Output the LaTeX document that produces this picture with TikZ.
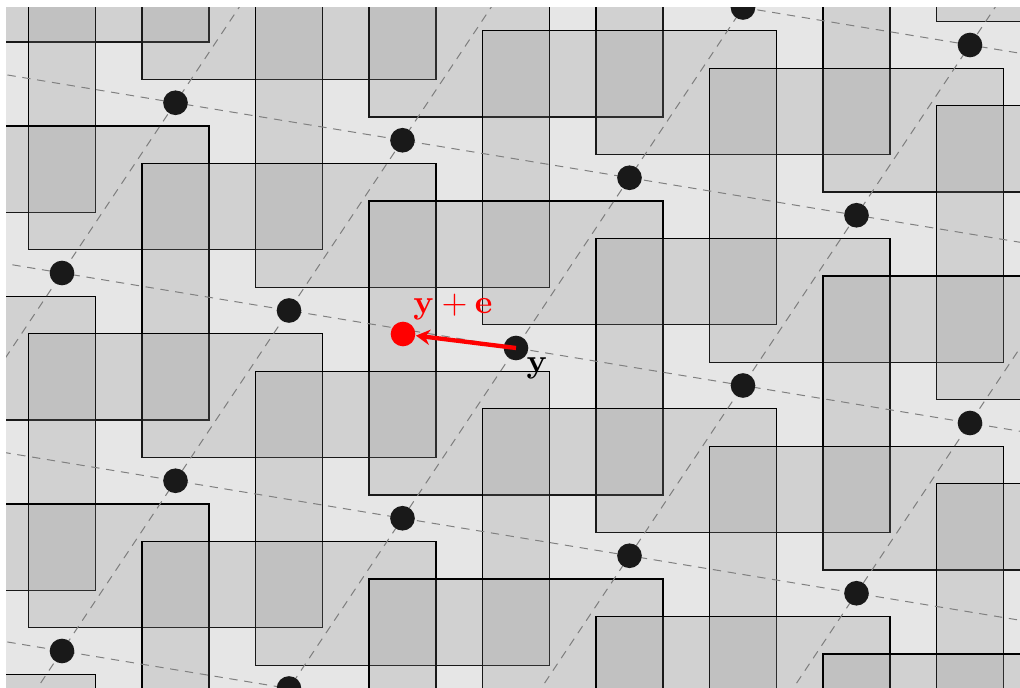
\documentclass[tikz,border=0pt]{standalone}
\usetikzlibrary{calc,arrows.meta}
\tikzset{
  tile/.style={fill=gray, fill opacity=0.2, draw=black, line width=0.33pt},
  latline/.style={gray, line width=0.3pt, dash pattern=on 2.5pt off 2pt},
  latdot/.style={circle, fill=black!90, inner sep=0pt, minimum size=7.4pt},
  errdot/.style={circle, fill=red, inner sep=0pt, minimum size=7.4pt},
  errarrow/.style={red, line width=1.3pt, -{Stealth[length=4.2pt,width=4.6pt]}},
}
\begin{document}
\begin{tikzpicture}[x=0.3pt,y=-0.3pt]
\useasboundingbox (0,0) rectangle (1020,688);
\begin{scope}
\clip (6,8) rectangle (1020,688);
% tiles
\foreach \i in {-4,...,4}{
  \foreach \j in {4,...,-4}{
    \pgfmathsetmacro\px{516+227*\i+113.5*\j}
    \pgfmathsetmacro\py{348+37.5*\i-170.25*\j}
    \filldraw[tile] (\px-147,\py-147) rectangle (\px+147,\py+147);
  }}
% lattice lines
\foreach \j in {-4,...,4}{
  \draw[latline] (516-227*6+113.5*\j,348-37.5*6-170.25*\j) -- (516+227*6+113.5*\j,348+37.5*6-170.25*\j);
}
\foreach \i in {-4,...,4}{
  \draw[latline] (516+227*\i-113.5*6,348+37.5*\i+170.25*6) -- (516+227*\i+113.5*6,348+37.5*\i-170.25*6);
}
% lattice points
\foreach \i in {-4,...,4}{
  \foreach \j in {-4,...,4}{
    \pgfmathsetmacro\px{516+227*\i+113.5*\j}
    \pgfmathsetmacro\py{348+37.5*\i-170.25*\j}
    \pgfmathtruncatemacro\a{\i+5}
    \pgfmathtruncatemacro\b{\j+5}
    \node[latdot] (p\a\b) at (\px,\py) {};
  }}
\node[errdot] (ye) at (403,334) {};
\draw[errarrow] (p55.center) -- (ye);
\node[red, inner sep=0pt] (lye) at (453,307) {$\mathbf{y}+\mathbf{e}$};
\node[inner sep=0pt] (ly) at (537,368) {$\mathbf{y}$};
\end{scope}
\end{tikzpicture}
\end{document}
